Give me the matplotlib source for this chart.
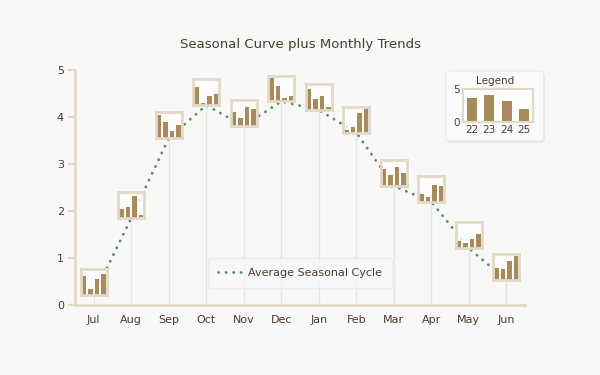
import matplotlib.pyplot as plt
import numpy as np
from matplotlib.patches import FancyBboxPatch

# Data
months = ['Jul', 'Aug', 'Sep', 'Oct', 'Nov', 'Dec', 'Jan', 'Feb', 'Mar', 'Apr', 'May', 'Jun']
avg_cycle = [0.21, 1.85, 3.55, 4.25, 3.81, 4.33, 4.15, 3.67, 2.53, 2.20, 1.21, 0.53]
years = ['22', '23', '24', '25']
# per-month values for each year (scaled inside each mini chart)
monthly_years = [
    [0.73, 0.23, 0.64, 0.81],
    [0.34, 0.43, 0.84, 0.13],
    [0.91, 0.62, 0.26, 0.51],
    [0.71, 0.09, 0.35, 0.45],
    [0.52, 0.29, 0.74, 0.64],
    [0.89, 0.59, 0.13, 0.23],
    [0.83, 0.42, 0.55, 0.12],
    [0.08, 0.21, 0.75, 0.93],
    [0.65, 0.41, 0.73, 0.50],
    [0.28, 0.17, 0.66, 0.61],
    [0.29, 0.19, 0.36, 0.56],
    [0.48, 0.42, 0.74, 0.95],
]
legend_values = [3.62, 4.13, 3.21, 1.99]

bg = '#f8f8f7'
text_c = '#4a3d31'
beige = '#e2d9c7'
bar_c = '#a98b5b'
line_c = '#5d8c6c'

plt.rcParams['font.family'] = ['DejaVu Sans']

fig = plt.figure(figsize=(6, 3.75), dpi=100, facecolor=bg)
ax = fig.add_axes([0.125, 0.1867, 0.75, 0.6266], facecolor='none')

x = np.arange(len(months))

# drop lines
ax.vlines(x, 0, avg_cycle, color='#e9e5de', lw=1, zorder=1)

ax.plot(x, avg_cycle, color=line_c, lw=2, linestyle=(0, (0.1, 2.6)),
        dash_capstyle='round', label='Average Seasonal Cycle', zorder=2)

ax.set_xlim(-0.5, 11.5)
ax.set_ylim(0, 5)
ax.set_xticks(x)
ax.set_xticklabels(months)
ax.set_yticks(range(6))
for s in ['top', 'right']:
    ax.spines[s].set_visible(False)
for s in ['left', 'bottom']:
    ax.spines[s].set_color(beige)
    ax.spines[s].set_linewidth(2)
ax.tick_params(axis='x', length=0, pad=7, labelsize=8, labelcolor=text_c)
ax.tick_params(axis='y', length=5, width=1.5, color=beige, pad=3, labelsize=8, labelcolor=text_c)

# mini bar charts at each month
for i, vals in enumerate(monthly_years):
    ins = ax.inset_axes([i - 0.35, avg_cycle[i], 0.7, 0.55], transform=ax.transData, zorder=3)
    ins.set_facecolor((1, 1, 1, 0.8))
    ins.bar(range(4), vals, width=0.72, color=bar_c)
    ins.set_xlim(-0.55, 3.55)
    ins.set_ylim(0, 1.0)
    ins.set_xticks([])
    ins.set_yticks([])
    for s in ins.spines.values():
        s.set_color(beige)
        s.set_linewidth(2)

ax.set_title('Seasonal Curve plus Monthly Trends', fontsize=9.5, color=text_c, pad=16)

leg = ax.legend(loc='center', bbox_to_anchor=(0.5, 0.272), bbox_transform=fig.transFigure,
                fontsize=8, frameon=True, fancybox=True, borderpad=0.9, handlelength=2.2,
                handletextpad=0.5, labelcolor=text_c)
leg.get_frame().set_facecolor('#f9f9f9')
leg.get_frame().set_edgecolor('#ebebeb')

# legend card with year bars
shadow = FancyBboxPatch((0.745, 0.619), 0.163, 0.187, boxstyle='round,pad=0,rounding_size=0.008',
                        transform=fig.transFigure, facecolor='#e6e6e6', edgecolor='none', zorder=-2)
card = FancyBboxPatch((0.743, 0.624), 0.163, 0.187, boxstyle='round,pad=0,rounding_size=0.008',
                      transform=fig.transFigure, facecolor='#fafafa', edgecolor='#ececec', lw=0.8, zorder=-1)
fig.patches.extend([shadow, card])
fig.text(0.8245, 0.784, 'Legend', ha='center', va='center', fontsize=7.5, color=text_c)

lax = fig.add_axes([0.7717, 0.6747, 0.1167, 0.088], facecolor='white', zorder=2)
lax.bar(range(4), legend_values, width=0.57, color=bar_c)
lax.set_xlim(-0.5, 3.5)
lax.set_ylim(0, 5)
lax.set_yticks([0, 5])
lax.set_xticks(range(4))
lax.set_xticklabels(years)
lax.tick_params(length=0, labelsize=7.5, labelcolor=text_c, pad=2)
for s in lax.spines.values():
    s.set_color(beige)
    s.set_linewidth(1.5)

fig.savefig('out.png', dpi=100, facecolor=bg)
